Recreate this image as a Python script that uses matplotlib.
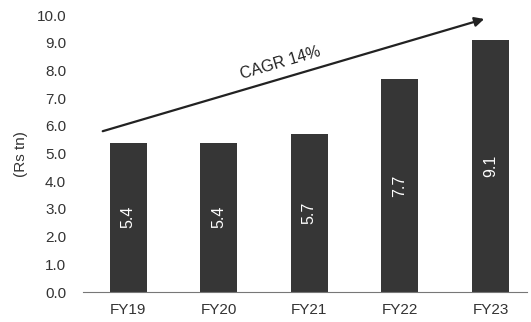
import matplotlib
matplotlib.use("Agg")
import matplotlib.pyplot as plt

years = ["FY19", "FY20", "FY21", "FY22", "FY23"]
values = [5.4, 5.4, 5.7, 7.7, 9.1]
labels = ["5.4", "5.4", "5.7", "7.7", "9.1"]
cagr_text = "CAGR 14%"

plt.rcParams['font.family'] = ['Liberation Sans', 'DejaVu Sans']

fig = plt.figure(figsize=(5.31, 3.22), dpi=100)
ax = fig.add_axes([0.156, 0.093, 0.836, 0.860])

x = list(range(len(years)))
ax.bar(x, values, width=0.41, color="#363636")

# подписи значений внутри столбцов
for i, v in enumerate(values):
    ax.text(i, v / 2, labels[i], rotation=90, ha="center", va="center",
            color="white", fontsize=11.5)

ax.set_xlim(-0.5, 4.4)
ax.set_ylim(0, 10)
ax.set_yticks([i for i in range(11)])
ax.set_yticklabels(["%.1f" % i for i in range(11)])
ax.set_xticks(x)
ax.set_xticklabels(years)
ax.tick_params(axis="both", length=0, labelsize=11, colors="#333333")
ax.tick_params(axis="y", pad=12)
ax.tick_params(axis="x", pad=8)

for s in ["top", "right", "left"]:
    ax.spines[s].set_visible(False)
ax.spines["bottom"].set_color("#777777")
ax.spines["bottom"].set_linewidth(0.8)

ax.set_ylabel("(Rs tn)", fontsize=11, color="#333333", labelpad=6)

# стрелка CAGR
ax.annotate("", xy=(3.96, 9.89), xytext=(-0.31, 5.78),
            arrowprops=dict(arrowstyle="-|>", color="#222222", lw=1.6,
                            mutation_scale=14),
            annotation_clip=False)
ax.text(1.68, 8.27, cagr_text, rotation=16.4, ha="center", va="center",
        fontsize=11.5, color="#222222")

fig.savefig("out.png", dpi=100)
